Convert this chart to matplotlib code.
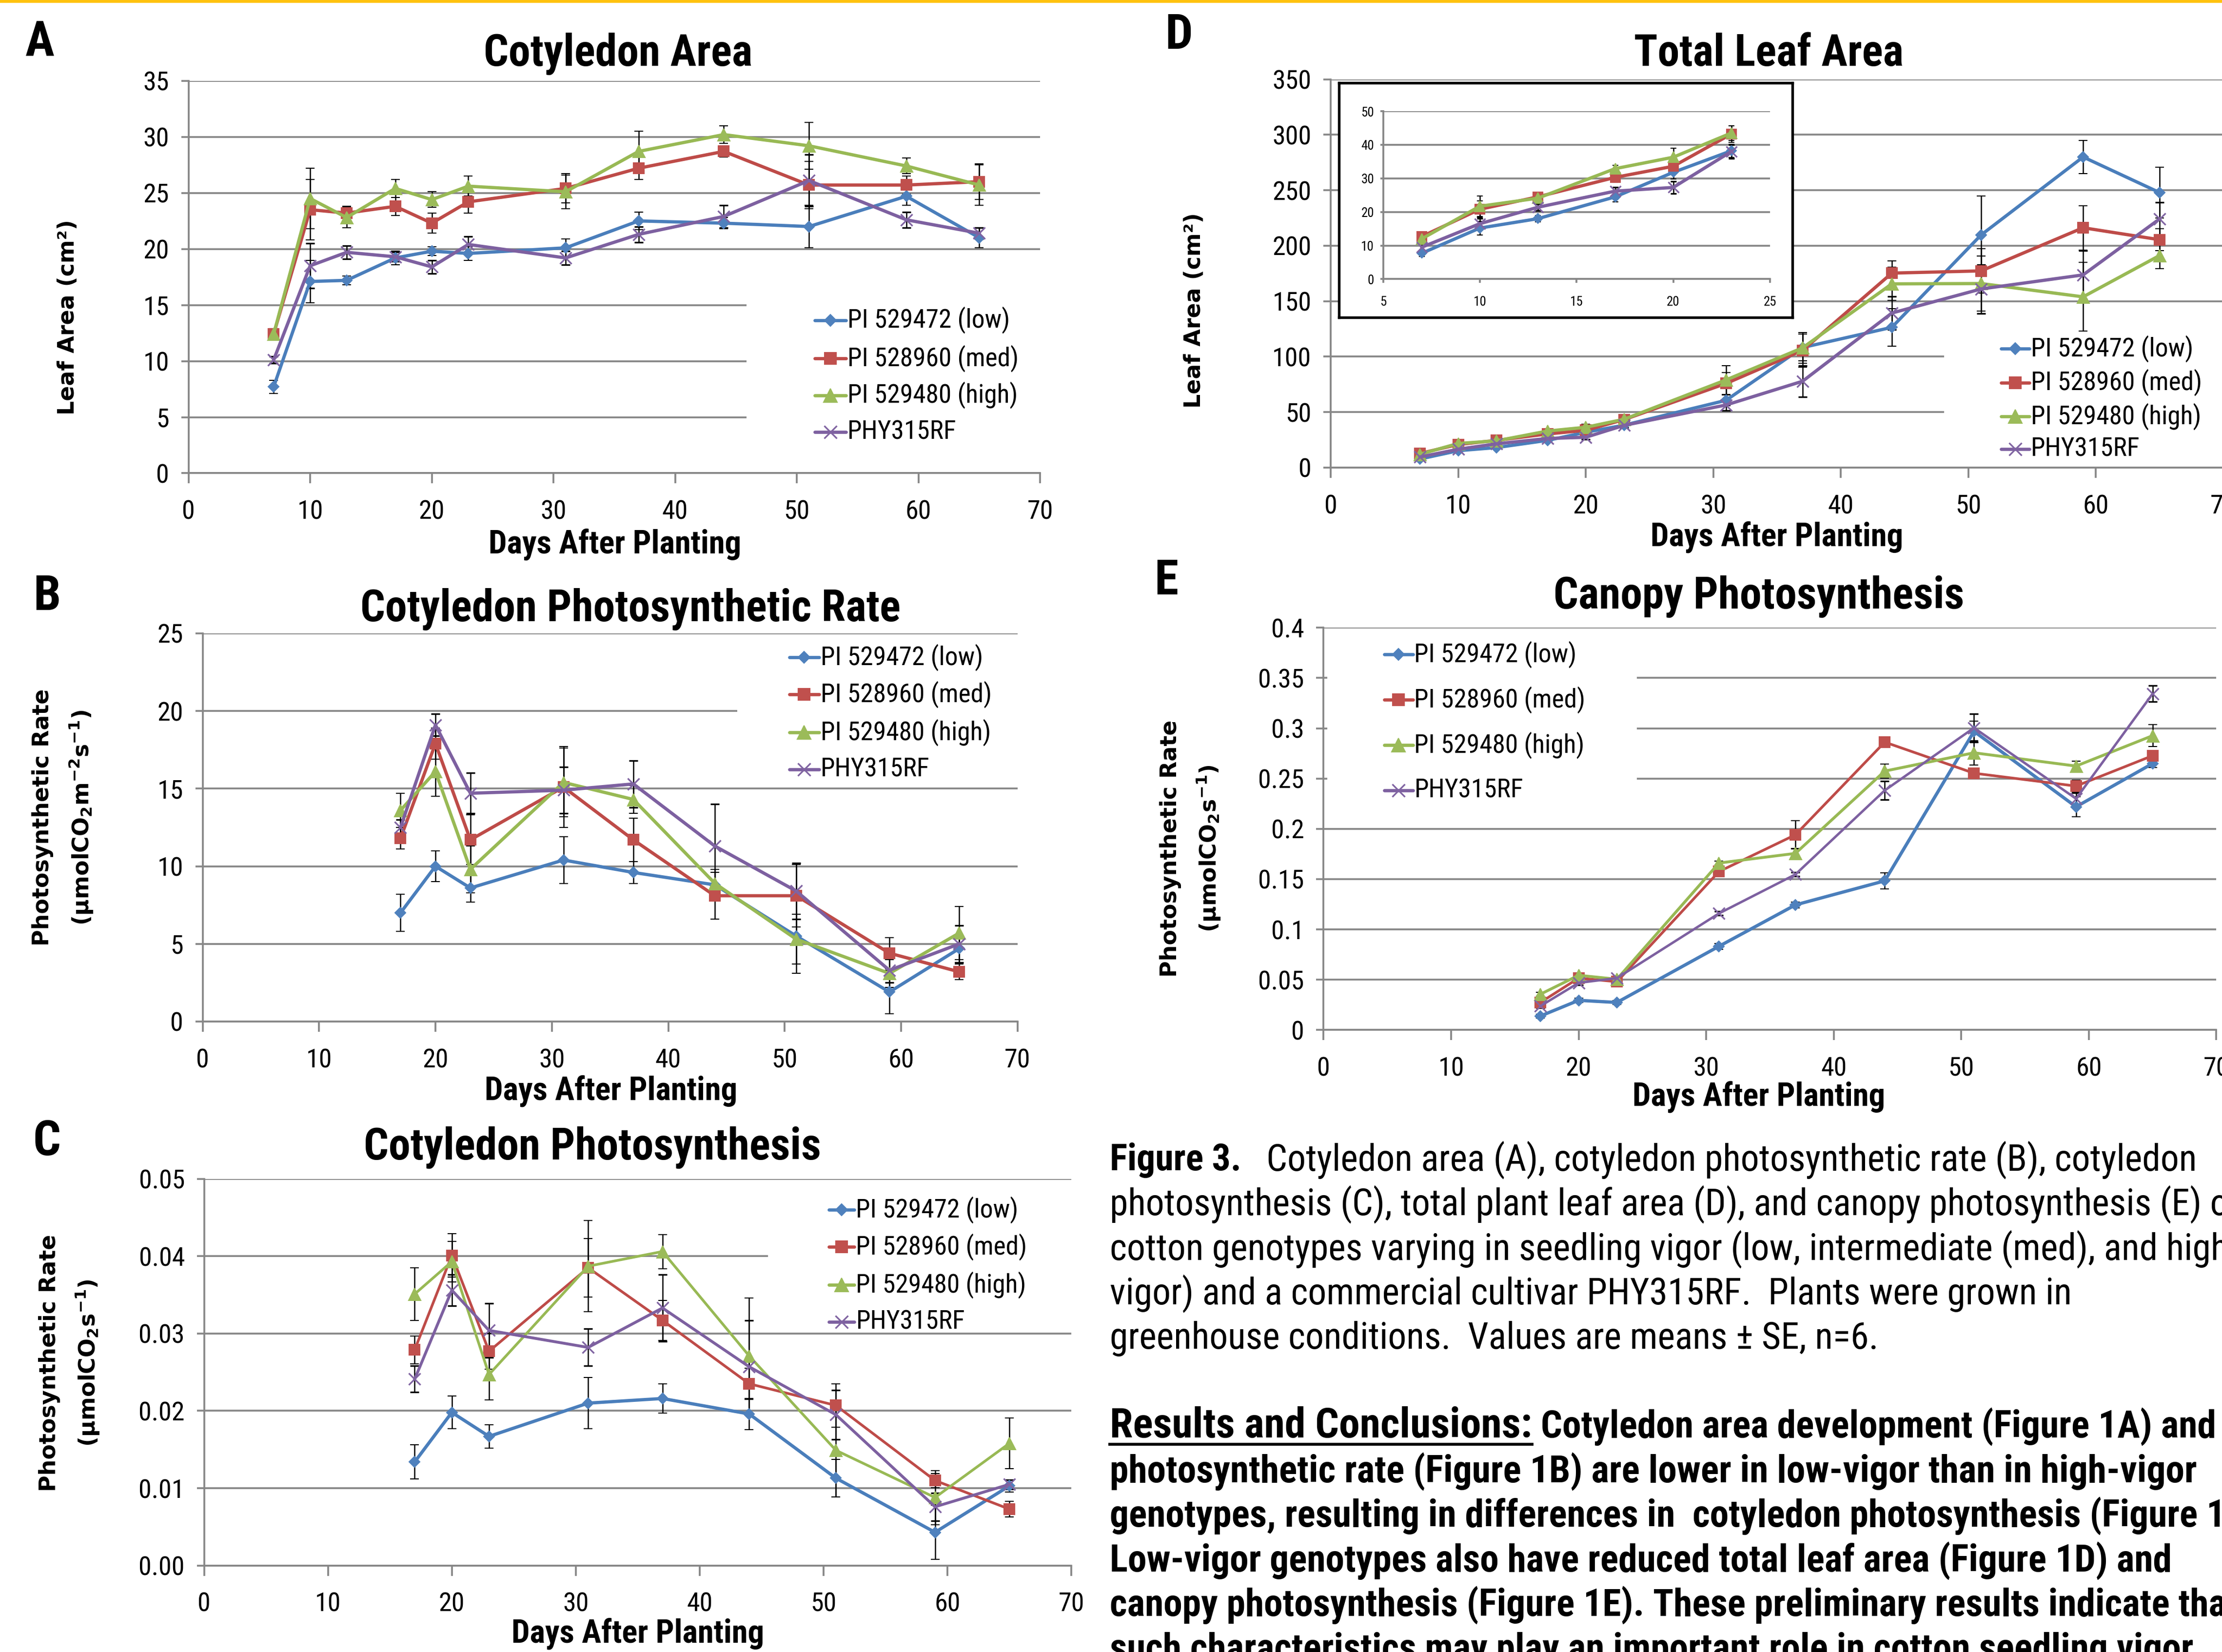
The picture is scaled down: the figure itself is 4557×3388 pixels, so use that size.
import matplotlib
matplotlib.use("Agg")
import matplotlib.pyplot as plt
from matplotlib import font_manager
from matplotlib.patches import Rectangle
from matplotlib.lines import Line2D

# ---------------- data ----------------
days_a = [7, 10, 13, 17, 20, 23, 31, 37, 44, 51, 59, 65]   # panels A and D
days_b = [17, 20, 23, 31, 37, 44, 51, 59, 65]              # panels B, C and E
labels = ["PI 529472 (low)", "PI 528960 (med)", "PI 529480 (high)", "PHY315RF"]

# A  cotyledon area (cm2)
a_low = [7.7, 17.1, 17.2, 19.2, 19.8, 19.6, 20.1, 22.5, 22.3, 22.0, 24.7, 21.0]
a_low_se = [0.6, 1.9, 0.4, 0.6, 0.4, 0.6, 0.8, 0.8, 0.5, 1.9, 0.8, 0.9]
a_med = [12.4, 23.5, 23.2, 23.8, 22.3, 24.2, 25.4, 27.2, 28.7, 25.7, 25.7, 26.0]
a_med_se = [0.5, 2.7, 0.6, 0.8, 0.9, 1.0, 1.3, 1.0, 0.5, 2.1, 0.8, 1.6]
a_high = [12.4, 24.5, 22.8, 25.4, 24.4, 25.6, 25.1, 28.7, 30.2, 29.2, 27.4, 25.7]
a_high_se = [0.5, 2.7, 0.9, 0.8, 0.7, 0.9, 1.5, 1.8, 0.8, 2.1, 0.7, 1.8]
a_phy = [10.1, 18.5, 19.7, 19.3, 18.4, 20.4, 19.2, 21.3, 22.9, 26.1, 22.6, 21.4]
a_phy_se = [0.3, 2.0, 0.6, 0.4, 0.6, 0.7, 0.6, 0.7, 1.0, 2.3, 0.7, 0.5]

# B  cotyledon photosynthetic rate
b_low = [7.0, 10.0, 8.6, 10.4, 9.6, 8.8, 5.5, 1.9, 4.7]
b_low_se = [1.2, 1.0, 0.9, 1.5, 0.7, 0.8, 2.4, 1.4, 0.9]
b_med = [11.8, 17.9, 11.7, 15.1, 11.7, 8.1, 8.1, 4.4, 3.2]
b_med_se = [0.7, 1.0, 1.6, 2.6, 1.4, 1.5, 2.0, 1.0, 0.5]
b_high = [13.6, 16.1, 9.8, 15.4, 14.3, 8.9, 5.3, 3.1, 5.7]
b_high_se = [1.1, 1.6, 1.5, 2.2, 0.9, 0.9, 1.6, 0.9, 1.7]
b_phy = [12.5, 19.1, 14.7, 14.9, 15.3, 11.3, 8.4, 3.3, 5.0]
b_phy_se = [0.5, 0.7, 1.3, 1.5, 1.5, 2.7, 1.8, 0.8, 1.2]

# C  cotyledon photosynthesis
c_low = [0.0134, 0.0198, 0.0167, 0.0210, 0.0216, 0.0196, 0.0113, 0.0043, 0.0103]
c_low_se = [0.0022, 0.0021, 0.0015, 0.0033, 0.0019, 0.0020, 0.0024, 0.0035, 0.0008]
c_med = [0.0279, 0.0401, 0.0277, 0.0385, 0.0317, 0.0235, 0.0207, 0.0110, 0.0073]
c_med_se = [0.0018, 0.0028, 0.0023, 0.0038, 0.0026, 0.0020, 0.0028, 0.0009, 0.0010]
c_high = [0.0351, 0.0393, 0.0247, 0.0387, 0.0406, 0.0271, 0.0149, 0.0088, 0.0158]
c_high_se = [0.0034, 0.0026, 0.0033, 0.0059, 0.0022, 0.0075, 0.0060, 0.0035, 0.0033]
c_phy = [0.0241, 0.0356, 0.0304, 0.0282, 0.0333, 0.0257, 0.0195, 0.0076, 0.0105]
c_phy_se = [0.0017, 0.0020, 0.0035, 0.0024, 0.0043, 0.0060, 0.0032, 0.0018, 0.0006]

# D  total leaf area (cm2)
d_low = [7.7, 15.2, 18.0, 24.5, 31.8, 38.2, 60.6, 108.2, 126.4, 209.7, 280.0, 247.9]
d_low_se = [1.0, 2.0, 1.0, 1.5, 2.0, 2.0, 5.0, 12.0, 17.0, 35.0, 15.0, 23.0]
d_med = [12.7, 20.8, 24.5, 30.3, 33.6, 43.2, 75.8, 105.6, 175.3, 177.3, 216.2, 205.4]
d_med_se = [1.0, 2.5, 1.0, 1.5, 2.0, 2.5, 10.0, 15.0, 11.0, 20.0, 20.0, 10.0]
d_high = [12.0, 21.7, 24.1, 32.9, 36.3, 43.5, 79.0, 107.9, 165.6, 165.9, 153.9, 191.2]
d_high_se = [1.0, 3.0, 1.0, 1.0, 2.7, 2.2, 13.0, 14.0, 15.0, 25.0, 31.0, 12.0]
d_phy = [9.5, 16.5, 21.4, 26.2, 27.3, 38.0, 56.4, 77.8, 139.3, 161.0, 173.7, 224.2]
d_phy_se = [1.0, 1.5, 1.0, 1.2, 1.8, 2.0, 5.0, 14.0, 15.0, 22.0, 22.0, 15.0]

# E  canopy photosynthesis
e_low = [0.0139, 0.0295, 0.0274, 0.0832, 0.1244, 0.1483, 0.2969, 0.2219, 0.2649]
e_low_se = [0.002, 0.002, 0.002, 0.003, 0.003, 0.008, 0.010, 0.010, 0.004]
e_med = [0.0274, 0.0516, 0.0480, 0.1575, 0.1941, 0.2862, 0.2553, 0.2425, 0.2727]
e_med_se = [0.003, 0.003, 0.003, 0.003, 0.014, 0.0025, 0.004, 0.006, 0.004]
e_high = [0.0356, 0.0544, 0.0505, 0.1660, 0.1756, 0.2574, 0.2756, 0.2624, 0.2926]
e_high_se = [0.002, 0.002, 0.002, 0.002, 0.005, 0.007, 0.012, 0.005, 0.011]
e_phy = [0.0238, 0.0469, 0.0516, 0.1159, 0.1547, 0.2382, 0.3004, 0.2300, 0.3342]
e_phy_se = [0.002, 0.002, 0.002, 0.002, 0.002, 0.009, 0.014, 0.006, 0.008]

x_ticks = [0, 10, 20, 30, 40, 50, 60, 70]
a_yticks = [0, 5, 10, 15, 20, 25, 30, 35]
b_yticks = [0, 5, 10, 15, 20, 25]
c_yticks = [0.0, 0.01, 0.02, 0.03, 0.04, 0.05]
c_yticklabels = ["0.00", "0.01", "0.02", "0.03", "0.04", "0.05"]
d_yticks = [0, 50, 100, 150, 200, 250, 300, 350]
e_yticks = [0, 0.05, 0.1, 0.15, 0.2, 0.25, 0.3, 0.35, 0.4]
e_yticklabels = ["0", "0.05", "0.1", "0.15", "0.2", "0.25", "0.3", "0.35", "0.4"]
inset_xticks = [5, 10, 15, 20, 25]
inset_yticks = [0, 10, 20, 30, 40, 50]

caption = [
    "photosynthesis (C), total plant leaf area (D), and canopy photosynthesis (E) of four",
    "cotton genotypes varying in seedling vigor (low, intermediate (med), and high",
    "vigor) and a commercial cultivar PHY315RF.  Plants were grown in",
    "greenhouse conditions.  Values are means \u00b1 SE, n=6.",
]
results = [
    "photosynthetic rate (Figure 1B) are lower in low-vigor than in high-vigor",
    "genotypes, resulting in differences in  cotyledon photosynthesis (Figure 1C).",
    "Low-vigor genotypes also have reduced total leaf area (Figure 1D) and",
    "canopy photosynthesis (Figure 1E). These preliminary results indicate that",
    "such characteristics may play an important role in cotton seedling vigor.",
]

# ---------------- style ----------------
names = {f.name for f in font_manager.fontManager.ttflist}
NARROW = "DejaVu Sans"
for cand in ["Liberation Sans Narrow", "Roboto Condensed", "Open Sans Condensed", "Liberation Sans"]:
    if cand in names:
        NARROW = cand
        break
plt.rcParams["font.family"] = [NARROW, "DejaVu Sans"]
plt.rcParams["mathtext.default"] = "bf"

GRID = "#878787"
LINE_C = ["#4A7EBB", "#BE4B48", "#98B954", "#7D60A0"]
FACE_C = ["#4F81BD", "#C0504D", "#9BBB59", "#8064A2"]
MARKERS = ["D", "s", "^", "x"]
MSIZE = [3.8, 5.2, 6.0, 5.8]

W, H = 1568.0, 1166.0   # layout measured on the reduced picture


def fx(x):
    return x / W


def fy(y):
    return 1 - y / H


fig = plt.figure(figsize=(4557 / 300, 3388 / 300), dpi=300)
fig.add_artist(Line2D([0, 1], [fy(0.6), fy(0.6)], transform=fig.transFigure,
                      color="#FFC20E", lw=1.6))


def style_axes(ax, yticks, yticklabels, fs=13, xlen=5, xpad=8, ypad=6):
    ax.set_yticks(yticks)
    if yticklabels is not None:
        ax.set_yticklabels(yticklabels)
    ax.set_axisbelow(True)
    ax.yaxis.grid(True, color=GRID, lw=0.9)
    for s in ["top", "right"]:
        ax.spines[s].set_visible(False)
    for s in ["left", "bottom"]:
        ax.spines[s].set_color(GRID)
        ax.spines[s].set_linewidth(0.9)
    ax.tick_params(axis="x", direction="out", length=xlen, width=0.9, color=GRID,
                   pad=xpad, labelsize=fs)
    ax.tick_params(axis="y", direction="out", length=xlen * 0.7, width=0.9, color=GRID,
                   pad=ypad, labelsize=fs)


def draw_series(ax, xs, ys, ses, lws, scale=1.0, cap=2.2):
    for i, (y, e) in enumerate(zip(ys, ses)):
        ax.errorbar(xs, y, yerr=e, color=LINE_C[i], lw=lws[i], marker=MARKERS[i],
                    ms=MSIZE[i] * scale, mfc=FACE_C[i], mec=FACE_C[i],
                    mew=0.8 if MARKERS[i] == "x" else 0.5,
                    ecolor="black", elinewidth=0.6, capsize=cap, capthick=0.6,
                    zorder=3)


def panel(box, xs, ys, ses, ylim, yticks, yticklabels, cover, lws):
    l, t, r, b = box
    ax = fig.add_axes([fx(l), fy(b), (r - l) / W, (b - t) / H])
    ax.set_xlim(0, 70)
    ax.set_ylim(*ylim)
    ax.set_xticks(x_ticks)
    style_axes(ax, yticks, yticklabels)
    # white area behind the legend hides the gridlines there
    cx0, cy0, cx1, cy1 = cover
    ax.add_patch(Rectangle((cx0, cy0), cx1 - cx0, cy1 - cy0, transform=ax.transAxes,
                           fc="white", ec="none", zorder=1))
    draw_series(ax, xs, ys, ses, lws)
    return ax


def legend(x0, x1, ycs, fs=12.8):
    for i, yc in enumerate(ycs):
        xm = (x0 + x1) / 2
        fig.add_artist(Line2D([fx(x0), fx(xm), fx(x1)], [fy(yc)] * 3, transform=fig.transFigure,
                              color=LINE_C[i], lw=1.6, marker=MARKERS[i], markevery=[1],
                              ms=MSIZE[i] * 1.1, mfc=FACE_C[i], mec=FACE_C[i],
                              mew=0.8 if MARKERS[i] == "x" else 0.5, solid_capstyle="round"))
        fig.text(fx(x1 + 1), fy(yc), labels[i], fontsize=fs, va="center", ha="left")


def texts(letter, lxy, title, txy, xlab_xy, ylabs):
    fig.text(fx(lxy[0]), fy(lxy[1]), letter, fontsize=24, fontweight="bold", ha="center", va="center")
    fig.text(fx(txy[0]), fy(txy[1]), title, fontsize=21.5, fontweight="bold", ha="center", va="center")
    fig.text(fx(xlab_xy[0]), fy(xlab_xy[1]), "Days After Planting", fontsize=16,
             fontweight="bold", ha="center", va="center")
    for (x, y, s) in ylabs:
        fig.text(fx(x), fy(y), s, fontsize=11, fontweight="bold", family="DejaVu Sans",
                 rotation=90, ha="center", va="center")


# ---- A ----
panel((133, 57, 734, 334), days_a, [a_low, a_med, a_high, a_phy],
      [a_low_se, a_med_se, a_high_se, a_phy_se], (0, 35), a_yticks, None,
      (0.655, 0.004, 1.0, 0.46), [1.6, 1.6, 1.6, 1.6])
legend(575, 597, [226, 253, 279, 305])
texts("A", (28, 30), "Cotyledon Area", (436, 38), (434, 384),
      [(48, 224, "Leaf Area (cm\u00b2)")])

# ---- B ----
panel((143, 447, 718, 721), days_b, [b_low, b_med, b_high, b_phy],
      [b_low_se, b_med_se, b_high_se, b_phy_se], (0, 25), b_yticks, None,
      (0.656, 0.613, 1.0, 0.99), [1.6, 1.6, 1.6, 1.6])
legend(557, 578, [464, 490, 517, 543])
texts("B", (33, 421), "Cotyledon Photosynthetic Rate", (445, 430), (431, 770),
      [(30, 577, "Photosynthetic Rate"), (57, 577, "(\u00b5molCO$_2$m$^{-2}$s$^{-1}$)")])

# ---- C ----
panel((144, 832, 756, 1105), days_b, [c_low, c_med, c_high, c_phy],
      [c_low_se, c_med_se, c_high_se, c_phy_se], (0, 0.05), c_yticks, c_yticklabels,
      (0.65, 0.61, 1.0, 0.99), [1.6, 1.3, 1.3, 1.4])
legend(585, 603, [854, 880, 907, 933])
texts("C", (33, 806), "Cotyledon Photosynthesis", (418, 810), (450, 1153),
      [(35, 962, "Photosynthetic Rate"), (62, 962, "(\u00b5molCO$_2$s$^{-1}$)")])

# ---- D ----
axd = panel((939, 56, 1569, 330), days_a, [d_low, d_med, d_high, d_phy],
            [d_low_se, d_med_se, d_high_se, d_phy_se], (0, 350), d_yticks, None,
            (0.687, 0.004, 1.0, 0.41), [1.6, 1.6, 1.6, 1.6])
legend(1412, 1432, [246, 270, 294, 317])
texts("D", (832, 25), "Total Leaf Area", (1248, 38), (1254, 379),
      [(843, 219, "Leaf Area (cm\u00b2)")])

# inset of D: first six harvests
frame = fig.add_axes([fx(945), fy(224), (1265 - 945) / W, (224 - 58.5) / H])
frame.set_xticks([])
frame.set_yticks([])
for s in frame.spines.values():
    s.set_color("black")
    s.set_linewidth(1.3)
ins = fig.add_axes([fx(976), fy(197), (1249 - 976) / W, (197 - 78.5) / H])
ins.set_xlim(5, 25)
ins.set_ylim(0, 50)
ins.set_xticks(inset_xticks)
style_axes(ins, inset_yticks, None, fs=6.5, xlen=2, xpad=6, ypad=3)
draw_series(ins, days_a[:6], [d_low[:6], d_med[:6], d_high[:6], d_phy[:6]],
            [d_low_se[:6], d_med_se[:6], d_high_se[:6], d_phy_se[:6]],
            [1.6, 1.6, 1.6, 1.6], scale=0.9, cap=1.5)

# ---- E ----
panel((934, 443, 1564, 727), days_b, [e_low, e_med, e_high, e_phy],
      [e_low_se, e_med_se, e_high_se, e_phy_se], (0, 0.4), e_yticks, e_yticklabels,
      (0.004, 0.52, 0.351, 0.99), [1.6, 1.3, 1.4, 1.2])
legend(977, 997, [462, 494, 526, 558])
texts("E", (823, 410), "Canopy Photosynthesis", (1241, 421), (1241, 774),
      [(826, 599, "Photosynthetic Rate"), (853, 599, "(\u00b5molCO$_2$s$^{-1}$)")])

# ---------------- caption text ----------------
renderer = fig.canvas.get_renderer()
FS = 18.2
FSB = 18.6


def run_line(y, parts):
    xd = fx(783) * fig.bbox.width
    out = []
    for s, kw in parts:
        t = fig.text(xd / fig.bbox.width, fy(y), s, va="baseline", ha="left", **kw)
        bb = t.get_window_extent(renderer)
        out.append(bb)
        xd = bb.x1
    return out


run_line(826, [("Figure 3.", dict(fontsize=FS, fontweight="bold")),
               ("   Cotyledon area (A), cotyledon photosynthetic rate (B), cotyledon",
                dict(fontsize=FS))])
for k, s in enumerate(caption):
    run_line(857.5 + 31.5 * k, [(s, dict(fontsize=FS))])

bbs = run_line(1014.5, [("Results and Conclusions:", dict(fontsize=20.6, fontweight="bold")),
                        (" Cotyledon area development (Figure 1A) and",
                         dict(fontsize=FSB, fontweight="bold"))])
b0 = bbs[0]
fig.add_artist(Line2D([b0.x0 / fig.bbox.width, b0.x1 / fig.bbox.width], [fy(1019.5)] * 2,
                      transform=fig.transFigure, color="black", lw=1.4))
for k, s in enumerate(results):
    run_line(1046 + 31.5 * k, [(s, dict(fontsize=FSB, fontweight="bold"))])

fig.savefig("out.png", dpi=300)
